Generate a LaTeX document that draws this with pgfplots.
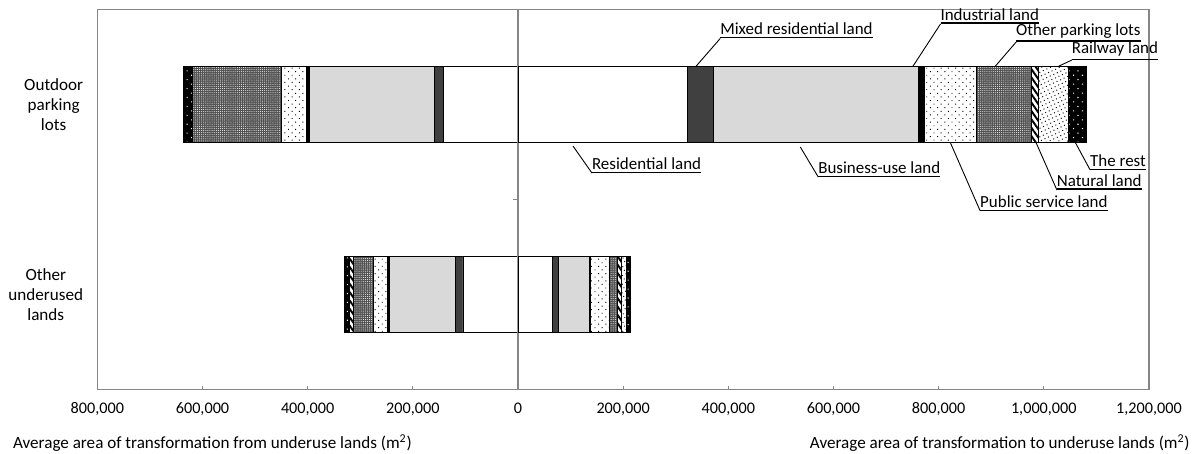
\documentclass[border=0pt]{standalone}
\usepackage{pgfplots}
\pgfplotsset{compat=1.18}
\usetikzlibrary{patterns.meta}
\usepackage{fontspec}
\setmainfont{Carlito}

\definecolor{framegray}{RGB}{134,134,134}
\definecolor{mixedgray}{RGB}{64,64,64}
\definecolor{busgray}{RGB}{217,217,217}

% segment styles, from the zero line outwards
\tikzset{
  resid/.style={fill=white},
  mixed/.style={fill=mixedgray},
  busi/.style={fill=busgray},
  indus/.style={fill=black},
  publ/.style={fill=white, postaction={pattern={Dots[distance=3.4pt,angle=45,radius=0.45pt]}, pattern color=black}},
  othp/.style={fill=black!68, postaction={pattern={Dots[distance=1.4pt,radius=0.33pt]}, pattern color=white}},
  natu/.style={fill=white, postaction={pattern={Lines[angle=-55,distance=3.2pt,line width=1.3pt]}, pattern color=black}},
  rail/.style={fill=white, postaction={pattern={Dots[distance=2.6pt,angle=25,radius=0.45pt]}, pattern color=black}},
  rest/.style={fill=black, postaction={pattern={Dots[distance=4.2pt,angle=45,radius=0.5pt]}, pattern color=white}},
}

\pgfplotsset{
  base/.style={
    scale only axis, width=701.1pt, height=253.3pt,
    xmin=-800000, xmax=1200000, ymin=-0.5, ymax=1.5,
    xbar stacked, bar width=0.4,
    every axis plot/.append style={draw=black, line width=0.6pt},
  }
}

% leader line + underlined label
\newcommand{\callout}[5]{%
  \draw[black, line width=0.6pt] (axis cs:#1,#2) -- (axis cs:#3,#4)
    node[anchor=south west, inner sep=0pt, outer sep=0pt, font=\fontsize{11.3}{13}\selectfont]
    {\vbox{\hbox{#5}\kern1.3pt\hrule height 1pt}};
}

\begin{document}
\begin{tikzpicture}
\begin{axis}[base,
  axis line style={framegray, line width=0.8pt},
  xtick={-800000,-600000,-400000,-200000,0,200000,400000,600000,800000,1000000,1200000},
  xticklabels={{800,000},{600,000},{400,000},{200,000},0,{200,000},{400,000},{600,000},{800,000},{1,000,000},{1,200,000}},
  scaled x ticks=false,
  ytick={0,1},
  yticklabels={Other\\underused\\lands, Outdoor\\parking\\lots},
  yticklabel style={align=center, xshift=-6pt, font=\fontsize{11.4}{13.3}\selectfont},
  xticklabel style={font=\fontsize{10.8}{13}\selectfont, yshift=-5.5pt},
  tick align=inside,
  x tick style={framegray, line width=0.8pt},
  y tick style={draw=none},
  xtick pos=bottom,
  major tick length=2pt,
]
% from underused lands (left side)
\addplot[resid] coordinates {(-141000,1) (-104600,0)};
\addplot[mixed] coordinates {(-17700,1) (-14600,0)};
\addplot[busi]  coordinates {(-238200,1) (-125500,0)};
\addplot[indus] coordinates {(-5100,1) (-3800,0)};
\addplot[publ]  coordinates {(-48100,1) (-26600,0)};
\addplot[othp]  coordinates {(-168600,1) (-38600,0)};
\addplot[natu]  coordinates {(-500,1) (-7600,0)};
\addplot[rail]  coordinates {(-500,1) (-1000,0)};
\addplot[rest]  coordinates {(-16500,1) (-7600,0)};
\end{axis}

\begin{axis}[base, hide axis, clip=false]
% to underused lands (right side)
\addplot[resid] coordinates {(321500,1) (65800,0)};
\addplot[mixed] coordinates {(49400,1) (10300,0)};
\addplot[busi]  coordinates {(390900,1) (59500,0)};
\addplot[indus] coordinates {(11400,1) (1900,0)};
\addplot[publ]  coordinates {(99600,1) (36100,0)};
\addplot[othp]  coordinates {(103200,1) (15200,0)};
\addplot[natu]  coordinates {(14600,1) (7600,0)};
\addplot[rail]  coordinates {(56300,1) (9500,0)};
\addplot[rest]  coordinates {(35000,1) (7600,0)};
% zero line
\draw[framegray, line width=1.3pt] (axis cs:0,-0.5) -- (axis cs:0,1.5);
\draw[framegray, line width=0.8pt] (axis cs:-9000,0.5) -- (axis cs:0,0.5);
% labels
\callout{338600}{1.2}{384800}{1.347}{Mixed residential land}
\callout{751100}{1.2}{803600}{1.423}{Industrial land}
\callout{907600}{1.2}{947500}{1.328}{Other parking lots}
\callout{1027900}{1.2}{1053400}{1.233}{Railway land}
\callout{1059700}{0.8}{1088200}{0.654}{The rest}
\callout{985000}{0.8}{1024900}{0.549}{Natural land}
\callout{822000}{0.8}{879100}{0.438}{Public service land}
\callout{104700}{0.78}{140900}{0.637}{Residential land}
\callout{536900}{0.775}{571100}{0.617}{Business-use land}
% axis titles
\node[anchor=west, inner sep=0pt, font=\fontsize{11.4}{13}\selectfont] at ([shift={(-56.4pt,-36.2pt)}]rel axis cs:0,0)
  {Average area of transformation from underuse lands (m\textsuperscript{2})};
\node[anchor=east, inner sep=0pt, font=\fontsize{11.4}{13}\selectfont] at ([shift={(27.3pt,-36.2pt)}]rel axis cs:1,0)
  {Average area of transformation to underuse lands (m\textsuperscript{2})};
% page extent
\path ([shift={(-64.9pt,-43.1pt)}]rel axis cs:0,0) rectangle ([shift={(30.7pt,6.2pt)}]rel axis cs:1,1);
\end{axis}
\end{tikzpicture}
\end{document}
